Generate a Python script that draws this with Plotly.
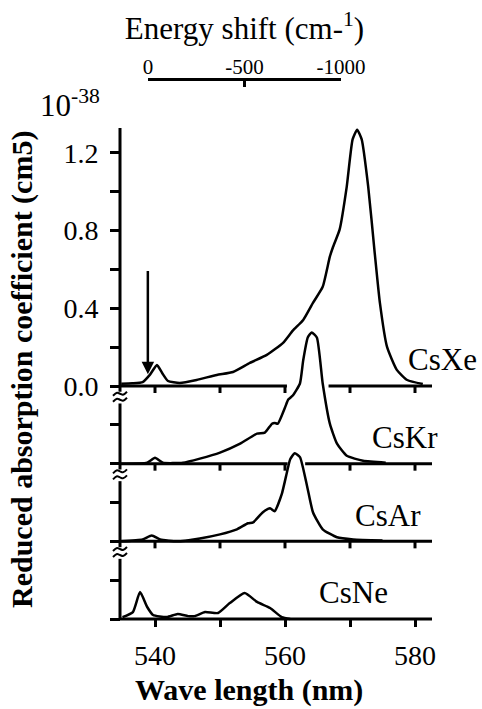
import plotly.graph_objects as go

# ---------------- data ----------------
species = ["CsXe", "CsKr", "CsAr", "CsNe"]
offsets = [0.0, -0.4, -0.8, -1.2]          # vertical stacking of the panels

xe_wl = [534.8, 536.5, 538.1, 539.2, 540.3, 541.1, 542.0, 543.8, 546.4, 549.5, 552.0,
         554.6, 557.2, 559.7, 561.2, 562.8, 564.3, 565.8, 566.9, 567.4, 568.4, 569.5,
         570.4, 571.1, 571.8, 572.8, 573.8, 574.6, 575.7, 577.2, 578.8, 581.2]
xe_val = [0.012, 0.014, 0.02, 0.057, 0.108, 0.067, 0.026, 0.016, 0.031, 0.057, 0.072,
          0.119, 0.160, 0.222, 0.285, 0.34, 0.428, 0.511, 0.666, 0.717, 0.805, 1.027,
          1.27, 1.32, 1.27, 1.027, 0.686, 0.428, 0.201, 0.083, 0.031, 0.010]

kr_wl = [534.8, 538.8, 540.0, 541.2, 544.3, 546.9, 550.0, 553.1, 555.7, 556.9, 558.0,
         558.4, 558.9, 560.0, 560.5, 561.2, 562.3, 562.8, 563.5, 564.1, 564.9, 565.8,
         566.9, 568.0, 569.5, 572.0, 575.5]
kr_val = [0.0, 0.005, 0.03, 0.005, 0.005, 0.026, 0.057, 0.103, 0.155, 0.16, 0.206,
          0.21, 0.206, 0.289, 0.33, 0.351, 0.413, 0.532, 0.65, 0.676, 0.65, 0.413,
          0.206, 0.103, 0.041, 0.015, 0.005]

ar_wl = [534.8, 538.1, 539.5, 540.8, 543.4, 546.9, 550.0, 552.6, 554.3, 555.1, 556.6,
         557.7, 558.4, 559.5, 560.3, 560.8, 561.5, 562.3, 563.4, 564.3, 565.8, 568.0,
         570.5, 575.0]
ar_val = [0.0, 0.01, 0.03, 0.01, 0.0, 0.015, 0.036, 0.062, 0.093, 0.098, 0.15,
          0.17, 0.155, 0.243, 0.356, 0.423, 0.454, 0.434, 0.284, 0.15, 0.062, 0.021,
          0.01, 0.005]

ne_wl = [535.0, 536.6, 537.7, 538.8, 539.7, 541.8, 543.5, 545.1, 546.1, 547.7, 549.7,
         551.5, 553.8, 555.7, 557.7, 559.5, 560.8]
ne_val = [0.01, 0.036, 0.139, 0.062, 0.021, 0.01, 0.026, 0.015, 0.015, 0.036, 0.031,
          0.082, 0.134, 0.088, 0.057, 0.01, 0.0]

series_wl = [xe_wl, kr_wl, ar_wl, ne_wl]
series_val = [xe_val, kr_val, ar_val, ne_val]

x_tickvals = [540, 550, 560, 570, 580]
x_ticktext = ["540", "", "560", "", "580"]
y_tickvals = [round(-1.2 + 0.2 * i, 1) for i in range(13)]
y_labelled = [0.0, 0.4, 0.8, 1.2]
energy_tickvals = [0, -500, -1000]
energy_ticktext = ["0", "-500", "-1000"]

arrow_wl = 538.9                      # position of the atomic line (0 shift)
label_x = [578.6, 573.1, 570.4, 564.9]  # left edges of panel labels (nm)
baseline_gaps = [(560.3, 566.7), (560.4, 563.1), None, None]

# ---------------- layout geometry (pixels) ----------------
W, H = 482, 709
ML, MR, MT, MB = 100, 42, 79, 69
PW, PH = W - ML - MR, H - MT - MB
AXIS_PX = 120          # y-axis x position
BOTTOM_PX = 619        # lowest baseline


def nm_at(px):
    return 540 + (px - 155) / 6.5


def val_at(py):
    return (386 - py) / 194.2


x0 = nm_at(AXIS_PX)
x_end = nm_at(432)
DX = 1 / 6.5
DY = 1 / 194.2

FONT = "Liberation Serif"
LW_AX = 3
fig = go.Figure()

# ---------------- axis decorations ----------------
dec_x, dec_y = [], []


def seg(xa, ya, xb, yb):
    dec_x.extend([xa, xb, None])
    dec_y.extend([ya, yb, None])


# baselines (with erased gaps where the lower peak crosses)
for off, gap in zip(offsets, baseline_gaps):
    if gap is None:
        seg(x0, off, x_end, off)
    else:
        seg(x0, off, gap[0], off)
        seg(gap[1], off, x_end, off)
# ticks under upper baselines
for off in offsets[:-1]:
    for xv in x_tickvals:
        seg(xv, off, xv, off - 7 * DY)
# y-axis segments
seg(x0, val_at(128), x0, offsets[0] - 0.03)
for off in offsets[1:]:
    bottom = off if off == offsets[-1] else off - 0.03
    seg(x0, off + 0.31, x0, bottom)

fig.add_trace(go.Scatter(x=dec_x, y=dec_y, mode="lines",
                         line=dict(color="black", width=LW_AX),
                         hoverinfo="skip", showlegend=False))

# break marks (small wiggles across the axis)
bx, by = [], []
wiggle = [(-7, -2), (-3, 1), (0, 0), (3, -1), (7, 2)]
for off in offsets[1:]:
    yc = off + 0.345
    for dyp in (-3, 3):
        for px_, py_ in wiggle:
            bx.append(x0 + px_ * DX)
            by.append(yc + (dyp + py_) * DY)
        bx.append(None)
        by.append(None)
fig.add_trace(go.Scatter(x=bx, y=by, mode="lines",
                         line=dict(color="black", width=2, shape="spline"),
                         hoverinfo="skip", showlegend=False))

# ---------------- spectra ----------------
for name, off, wl, val in zip(species, offsets, series_wl, series_val):
    fig.add_trace(go.Scatter(x=wl, y=[v + off for v in val], mode="lines", name=name,
                             line=dict(color="black", width=2.5, shape="spline",
                                       smoothing=0.5),
                             hoverinfo="skip", showlegend=False))

# dummy trace for the energy-shift axis
fig.add_trace(go.Scatter(x=[0, -1000], y=[None, None], xaxis="x2", yaxis="y",
                         mode="lines", hoverinfo="skip", showlegend=False))

# ---------------- annotations ----------------
annotations = []
for name, off, lx in zip(species, offsets, label_x):
    annotations.append(dict(x=lx, y=off + 0.135, xref="x", yref="y", text=name,
                            showarrow=False, xanchor="left", yanchor="middle",
                            font=dict(family=FONT, size=31, color="black")))
annotations.append(dict(x=arrow_wl, y=0.06, xref="x", yref="y",
                        ax=arrow_wl, ay=0.6, axref="x", ayref="y", text="",
                        showarrow=True, arrowhead=2, arrowsize=1.0, arrowwidth=2.5,
                        arrowcolor="black"))
annotations.append(dict(x=(22 - ML) / PW, y=(H - MB - 370) / PH, xref="paper",
                        yref="paper", text="<b>Reduced absorption coefficient (cm5)</b>",
                        textangle=-90, showarrow=False, xanchor="center",
                        yanchor="middle", font=dict(family=FONT, size=30, color="black")))
annotations.append(dict(x=(249 - ML) / PW, y=(H - MB - 690) / PH, xref="paper",
                        yref="paper", text="<b>Wave length (nm)</b>", showarrow=False,
                        xanchor="center", yanchor="middle",
                        font=dict(family=FONT, size=30, color="black")))
annotations.append(dict(x=(38 - ML) / PW, y=(H - MB - 125) / PH, xref="paper",
                        yref="paper", text="10<sup>-38</sup>", showarrow=False,
                        xanchor="left", yanchor="bottom",
                        font=dict(family=FONT, size=31, color="black")))

# ---------------- layout ----------------
y_bot_px = H - MB
ydom_top = (y_bot_px - 125) / PH
fig.update_layout(
    width=W, height=H,
    margin=dict(l=ML, r=MR, t=MT, b=MB, pad=0),
    paper_bgcolor="white", plot_bgcolor="rgba(0,0,0,0)",
    font=dict(family=FONT, color="black"),
    annotations=annotations,
    xaxis=dict(range=[nm_at(ML), nm_at(W - MR)], domain=[0, 1],
               anchor="free", position=(y_bot_px - BOTTOM_PX) / PH,
               showline=False, showgrid=False, zeroline=False,
               tickmode="array", tickvals=x_tickvals, ticktext=x_ticktext,
               ticks="outside", ticklen=7, tickwidth=2.5, tickcolor="black",
               ticklabelstandoff=4,
               tickfont=dict(family=FONT, size=28, color="black")),
    yaxis=dict(range=[val_at(y_bot_px), val_at(125)], domain=[0, ydom_top],
               anchor="free", position=(AXIS_PX - ML) / PW,
               showline=False, showgrid=False, zeroline=False,
               tickmode="array", tickvals=y_tickvals,
               ticktext=[("%.1f" % v) if v in y_labelled else "" for v in y_tickvals],
               ticks="outside", ticklen=10, tickwidth=2.5, tickcolor="black",
               ticklabelstandoff=6,
               tickfont=dict(family=FONT, size=28, color="black")),
    xaxis2=dict(range=[0, -1000], domain=[(148 - ML) / PW, (341 - ML) / PW],
                anchor="free", position=1.0, side="top",
                showline=True, linewidth=2.5, linecolor="black",
                showgrid=False, zeroline=False,
                tickmode="array", tickvals=energy_tickvals, ticktext=energy_ticktext,
                ticks="inside", ticklen=6, tickwidth=2.5, tickcolor="black",
                ticklabelstandoff=-4,
                tickfont=dict(family=FONT, size=21, color="black"),
                title=dict(text="Energy shift (cm-<sup>1</sup>)", standoff=4,
                           font=dict(family=FONT, size=31, color="black"))),
)

fig.write_html("out.html")
